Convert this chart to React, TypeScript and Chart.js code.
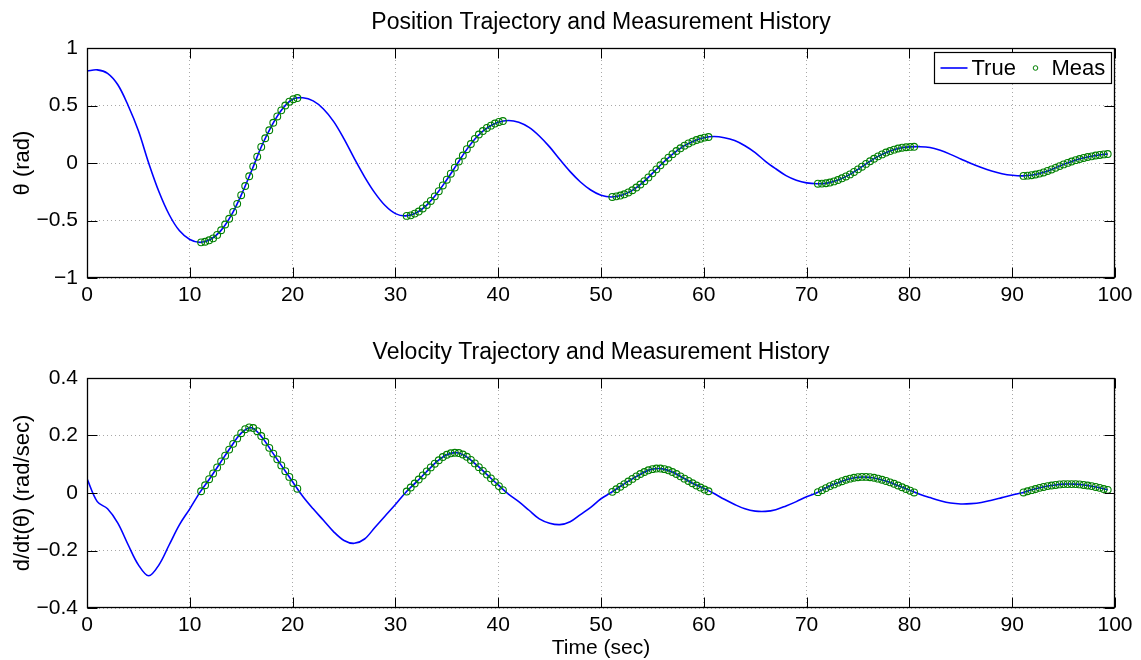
import React, { useEffect, useRef } from "react";
import { Chart, registerables } from "chart.js";

Chart.register(...registerables);

const FONT = "'Liberation Sans', Arial, Helvetica, sans-serif";

// ---- Data ----
const trueTime = [
  0, 1, 2, 3, 4, 5, 6, 7, 8, 9, 10, 11, 12, 13, 14, 15, 16, 17, 18, 19,
  20, 21, 22, 23, 24, 25, 26, 27, 28, 29, 30, 31, 32, 33, 34, 35, 36, 37, 38, 39,
  40, 41, 42, 43, 44, 45, 46, 47, 48, 49, 50, 51, 52, 53, 54, 55, 56, 57, 58, 59,
  60, 61, 62, 63, 64, 65, 66, 67, 68, 69, 70, 71, 72, 73, 74, 75, 76, 77, 78, 79,
  80, 81, 82, 83, 84, 85, 86, 87, 88, 89, 90, 91, 92, 93, 94, 95, 96, 97, 98, 99, 99.3,
];

const truePosition = [
  0.8, 0.81, 0.78, 0.68, 0.5, 0.28, 0.0, -0.25, -0.45, -0.59,
  -0.665, -0.69, -0.665, -0.59, -0.46, -0.28, -0.07, 0.15, 0.33, 0.47,
  0.555, 0.567, 0.54, 0.47, 0.36, 0.21, 0.04, -0.12, -0.26, -0.37,
  -0.44, -0.46, -0.435, -0.37, -0.27, -0.145, -0.01, 0.125, 0.235, 0.31,
  0.355, 0.37, 0.355, 0.31, 0.235, 0.14, 0.03, -0.075, -0.165, -0.235,
  -0.28, -0.295, -0.28, -0.24, -0.175, -0.09, 0.0, 0.08, 0.145, 0.19,
  0.22, 0.23, 0.22, 0.195, 0.15, 0.09, 0.015, -0.05, -0.11, -0.15,
  -0.173, -0.18, -0.175, -0.15, -0.11, -0.055, 0.005, 0.06, 0.1, 0.128,
  0.14, 0.142, 0.135, 0.11, 0.075, 0.035, -0.005, -0.04, -0.07, -0.093,
  -0.107, -0.112, -0.105, -0.083, -0.05, -0.012, 0.02, 0.045, 0.063, 0.076, 0.078,
];

const trueVelocity = [
  0.05, -0.03, -0.055, -0.105, -0.18, -0.25, -0.288, -0.25, -0.18, -0.11,
  -0.055, 0.003, 0.053, 0.107, 0.16, 0.208, 0.227, 0.195, 0.143, 0.091,
  0.039, -0.012, -0.055, -0.095, -0.135, -0.165, -0.175, -0.16, -0.12, -0.08,
  -0.04, 0.002, 0.037, 0.073, 0.108, 0.133, 0.14, 0.124, 0.094, 0.061,
  0.028, -0.004, -0.03, -0.06, -0.09, -0.105, -0.11, -0.1, -0.075, -0.05,
  -0.02, 0.002, 0.026, 0.048, 0.069, 0.083, 0.084, 0.072, 0.052, 0.032,
  0.016, -0.002, -0.022, -0.04, -0.055, -0.063, -0.064, -0.058, -0.045, -0.03,
  -0.013, 0.001, 0.02, 0.035, 0.048, 0.055, 0.055, 0.049, 0.038, 0.024,
  0.01, -0.004, -0.016, -0.027, -0.035, -0.038, -0.037, -0.033, -0.025, -0.016,
  -0.007, 0.001, 0.012, 0.021, 0.027, 0.031, 0.031, 0.028, 0.022, 0.014, 0.011,
];

const measTime = [
  11.1, 11.49, 11.88, 12.27, 12.66, 13.05, 13.44, 13.83, 14.22, 14.61, 15.0, 15.39, 15.78,
  16.17, 16.56, 16.95, 17.34, 17.73, 18.12, 18.51, 18.9, 19.29, 19.68, 20.07, 20.46,
  31.1, 31.49, 31.88, 32.27, 32.66, 33.05, 33.44, 33.83, 34.22, 34.61, 35.0, 35.39, 35.78,
  36.17, 36.56, 36.95, 37.34, 37.73, 38.12, 38.51, 38.9, 39.29, 39.68, 40.07, 40.46,
  51.1, 51.49, 51.88, 52.27, 52.66, 53.05, 53.44, 53.83, 54.22, 54.61, 55.0, 55.39, 55.78,
  56.17, 56.56, 56.95, 57.34, 57.73, 58.12, 58.51, 58.9, 59.29, 59.68, 60.07, 60.46,
  71.1, 71.49, 71.88, 72.27, 72.66, 73.05, 73.44, 73.83, 74.22, 74.61, 75.0, 75.39, 75.78,
  76.17, 76.56, 76.95, 77.34, 77.73, 78.12, 78.51, 78.9, 79.29, 79.68, 80.07, 80.46,
  91.1, 91.49, 91.88, 92.27, 92.66, 93.05, 93.44, 93.83, 94.22, 94.61, 95.0, 95.39, 95.78,
  96.17, 96.56, 96.95, 97.34, 97.73, 98.12, 98.51, 98.9, 99.29,
];

const measPosition = [
  -0.69, -0.685, -0.672, -0.655, -0.625, -0.585, -0.535, -0.485, -0.425, -0.355, -0.28, -0.2, -0.115,
  -0.03, 0.055, 0.14, 0.215, 0.285, 0.35, 0.405, 0.458, 0.5, 0.533, 0.555, 0.565,
  -0.46, -0.455, -0.44, -0.422, -0.395, -0.365, -0.33, -0.29, -0.245, -0.195, -0.145, -0.093, -0.04,
  0.013, 0.065, 0.12, 0.165, 0.21, 0.248, 0.278, 0.305, 0.325, 0.343, 0.357, 0.365,
  -0.295, -0.29, -0.283, -0.272, -0.256, -0.237, -0.213, -0.187, -0.158, -0.125, -0.09, -0.055, -0.02,
  0.014, 0.046, 0.077, 0.104, 0.128, 0.151, 0.17, 0.186, 0.2, 0.211, 0.221, 0.226,
  -0.18, -0.179, -0.176, -0.17, -0.16, -0.148, -0.133, -0.117, -0.099, -0.078, -0.055, -0.032, -0.008,
  0.015, 0.037, 0.058, 0.075, 0.091, 0.104, 0.116, 0.126, 0.133, 0.137, 0.14, 0.141,
  -0.112, -0.11, -0.106, -0.1, -0.092, -0.082, -0.069, -0.056, -0.042, -0.027, -0.012, 0.001, 0.013,
  0.025, 0.035, 0.044, 0.052, 0.058, 0.065, 0.07, 0.075, 0.078,
];

const measVelocity = [
  0.006, 0.027, 0.048, 0.068, 0.089, 0.11, 0.13, 0.151, 0.171, 0.19, 0.208, 0.222, 0.228,
  0.226, 0.215, 0.198, 0.178, 0.157, 0.137, 0.117, 0.096, 0.076, 0.056, 0.035, 0.015,
  0.005, 0.019, 0.033, 0.047, 0.061, 0.075, 0.089, 0.102, 0.114, 0.125, 0.133, 0.138, 0.14,
  0.139, 0.134, 0.126, 0.115, 0.103, 0.09, 0.077, 0.064, 0.051, 0.038, 0.024, 0.01,
  0.004, 0.013, 0.022, 0.031, 0.04, 0.049, 0.058, 0.066, 0.073, 0.079, 0.083, 0.085, 0.085,
  0.083, 0.079, 0.073, 0.066, 0.058, 0.05, 0.042, 0.034, 0.026, 0.019, 0.012, 0.006,
  0.003, 0.01, 0.017, 0.024, 0.03, 0.036, 0.041, 0.046, 0.05, 0.053, 0.055, 0.056, 0.056,
  0.055, 0.053, 0.05, 0.046, 0.042, 0.037, 0.032, 0.026, 0.02, 0.014, 0.008, 0.002,
  0.002, 0.006, 0.01, 0.014, 0.018, 0.021, 0.024, 0.026, 0.028, 0.03, 0.031, 0.031, 0.031,
  0.031, 0.03, 0.028, 0.026, 0.024, 0.021, 0.018, 0.014, 0.011,
];

const xTicks = [0, 10, 20, 30, 40, 50, 60, 70, 80, 90, 100];
const positionTicks = [-1, -0.5, 0, 0.5, 1];
const velocityTicks = [-0.4, -0.2, 0, 0.2, 0.4];

const seriesLabels = ["True", "Meas"];

// ---- helpers ----
const fmt = (v: number) => {
  const r = Math.round(v * 100) / 100;
  if (r === 0) return "0";
  return (r < 0 ? "\u2212" : "") + String(Math.abs(r));
};

const boxPlugin = {
  id: "matlabBox",
  afterDatasetsDraw(chart: any) {
    const { ctx, chartArea, scales } = chart;
    const L = Math.round(chartArea.left) + 0.5;
    const R = Math.round(chartArea.right) - 0.5;
    const T = Math.round(chartArea.top) + 0.5;
    const B = Math.round(chartArea.bottom) - 0.5;
    const tl = 10;
    ctx.save();
    ctx.strokeStyle = "#000";
    ctx.lineWidth = 1;
    ctx.beginPath();
    scales.x.ticks.forEach((t: any) => {
      const px = Math.round(scales.x.getPixelForValue(t.value)) + 0.5;
      ctx.moveTo(px, B);
      ctx.lineTo(px, B - tl);
      ctx.moveTo(px, T);
      ctx.lineTo(px, T + tl);
    });
    scales.y.ticks.forEach((t: any) => {
      const py = Math.round(scales.y.getPixelForValue(t.value)) + 0.5;
      ctx.moveTo(L, py);
      ctx.lineTo(L + tl, py);
      ctx.moveTo(R, py);
      ctx.lineTo(R - tl, py);
    });
    ctx.stroke();
    ctx.lineWidth = 1.3;
    ctx.strokeRect(L, T, R - L, B - T);
    ctx.restore();
  },
};

const legendPlugin = {
  id: "matlabLegend",
  afterDraw(chart: any) {
    const { ctx, chartArea } = chart;
    const w = 177;
    const h = 31;
    const x0 = Math.round(chartArea.right - 4 - w) + 0.5;
    const y0 = Math.round(chartArea.top + 4) + 0.5;
    const cy = y0 + h / 2;
    const ds = chart.data.datasets;
    ctx.save();
    ctx.fillStyle = "#fff";
    ctx.fillRect(x0, y0, w, h);
    ctx.strokeStyle = "#000";
    ctx.lineWidth = 1.2;
    ctx.strokeRect(x0, y0, w, h);
    ctx.strokeStyle = ds[0].borderColor;
    ctx.lineWidth = 1.6;
    ctx.beginPath();
    ctx.moveTo(x0 + 6, cy);
    ctx.lineTo(x0 + 33, cy);
    ctx.stroke();
    ctx.fillStyle = "#000";
    ctx.font = `22px ${FONT}`;
    ctx.textBaseline = "middle";
    ctx.textAlign = "left";
    ctx.fillText(ds[0].label, x0 + 37, cy + 1);
    ctx.strokeStyle = ds[1].borderColor;
    ctx.lineWidth = 1;
    ctx.beginPath();
    ctx.arc(x0 + 101, cy, 2.3, 0, Math.PI * 2);
    ctx.stroke();
    ctx.fillText(ds[1].label, x0 + 117, cy + 1);
    ctx.restore();
  },
};

function buildConfig(
  trueVals: number[],
  measVals: number[],
  yMin: number,
  yMax: number,
  yTicks: number[],
  titleText: string,
  yTitle: string,
  xTitle: string | null,
  withLegend: boolean
): any {
  const tickFont = { family: FONT, size: 21 };
  return {
    type: "line",
    data: {
      datasets: [
        {
          label: seriesLabels[0],
          data: trueTime.map((t, i) => ({ x: t, y: trueVals[i] })),
          borderColor: "#0000ff",
          backgroundColor: "#0000ff",
          borderWidth: 1.6,
          pointRadius: 0,
          tension: 0.35,
          fill: false,
          order: 2,
        },
        {
          label: seriesLabels[1],
          data: measTime.map((t, i) => ({ x: t, y: measVals[i] })),
          showLine: false,
          pointStyle: "circle",
          pointRadius: 3.4,
          borderColor: "#008000",
          backgroundColor: "rgba(0,0,0,0)",
          pointBorderWidth: 1.1,
          borderWidth: 1,
          order: 1,
        },
      ],
    },
    options: {
      animation: false,
      responsive: false,
      devicePixelRatio: 1,
      events: [],
      layout: { padding: { left: 0, right: 26, top: 0, bottom: 0 } },
      plugins: {
        legend: { display: false },
        tooltip: { enabled: false },
        title: {
          display: true,
          text: titleText,
          fullSize: false,
          color: "#000",
          font: { family: FONT, size: 23, weight: "normal", lineHeight: 1.2 },
          padding: { top: 9, bottom: 11.4 },
        },
      },
      scales: {
        x: {
          type: "linear",
          min: 0,
          max: 100,
          afterBuildTicks: (s: any) => {
            s.ticks = xTicks.map((v) => ({ value: v }));
          },
          afterFit: (s: any) => {
            s.height = 52;
          },
          ticks: {
            color: "#000",
            font: tickFont,
            padding: 5,
            maxRotation: 0,
            autoSkip: false,
            callback: (v: any) => fmt(Number(v)),
          },
          grid: { color: "#a8a8a8", lineWidth: 1, drawTicks: false },
          border: { display: false, dash: [1, 3] },
          title: xTitle
            ? {
                display: true,
                text: xTitle,
                color: "#000",
                font: { family: FONT, size: 21, lineHeight: 1.0 },
                padding: { top: 0, bottom: 1 },
              }
            : { display: false },
        },
        y: {
          type: "linear",
          min: yMin,
          max: yMax,
          afterBuildTicks: (s: any) => {
            s.ticks = yTicks.map((v) => ({ value: v }));
          },
          afterFit: (s: any) => {
            s.width = 87;
          },
          ticks: {
            color: "#000",
            font: tickFont,
            padding: 9,
            autoSkip: false,
            callback: (v: any) => fmt(Number(v)),
          },
          grid: { color: "#a8a8a8", lineWidth: 1, drawTicks: false },
          border: { display: false, dash: [1, 3] },
          title: {
            display: true,
            text: yTitle,
            color: "#000",
            font: { family: FONT, size: 22, lineHeight: 1.2 },
            padding: { top: 9.5, bottom: 0 },
          },
        },
      },
    },
    plugins: withLegend ? [boxPlugin, legendPlugin] : [boxPlugin],
  };
}

export default function App() {
  const topRef = useRef<HTMLCanvasElement>(null);
  const botRef = useRef<HTMLCanvasElement>(null);

  useEffect(() => {
    const c1 = new Chart(
      topRef.current as HTMLCanvasElement,
      buildConfig(
        truePosition,
        measPosition,
        -1,
        1,
        positionTicks,
        "Position Trajectory and Measurement History",
        "\u03b8 (rad)",
        null,
        true
      )
    );
    const c2 = new Chart(
      botRef.current as HTMLCanvasElement,
      buildConfig(
        trueVelocity,
        measVelocity,
        -0.4,
        0.4,
        velocityTicks,
        "Velocity Trajectory and Measurement History",
        "d/dt(\u03b8) (rad/sec)",
        "Time (sec)",
        false
      )
    );
    return () => {
      c1.destroy();
      c2.destroy();
    };
  }, []);

  return (
    <div
      style={{
        position: "absolute",
        left: 0,
        top: 0,
        width: 1141,
        height: 660,
        background: "#fff",
        overflow: "hidden",
      }}
    >
      <canvas
        ref={topRef}
        width={1141}
        height={330}
        style={{ position: "absolute", left: 0, top: 0, width: 1141, height: 330 }}
      />
      <canvas
        ref={botRef}
        width={1141}
        height={330}
        style={{ position: "absolute", left: 0, top: 330, width: 1141, height: 330 }}
      />
    </div>
  );
}
